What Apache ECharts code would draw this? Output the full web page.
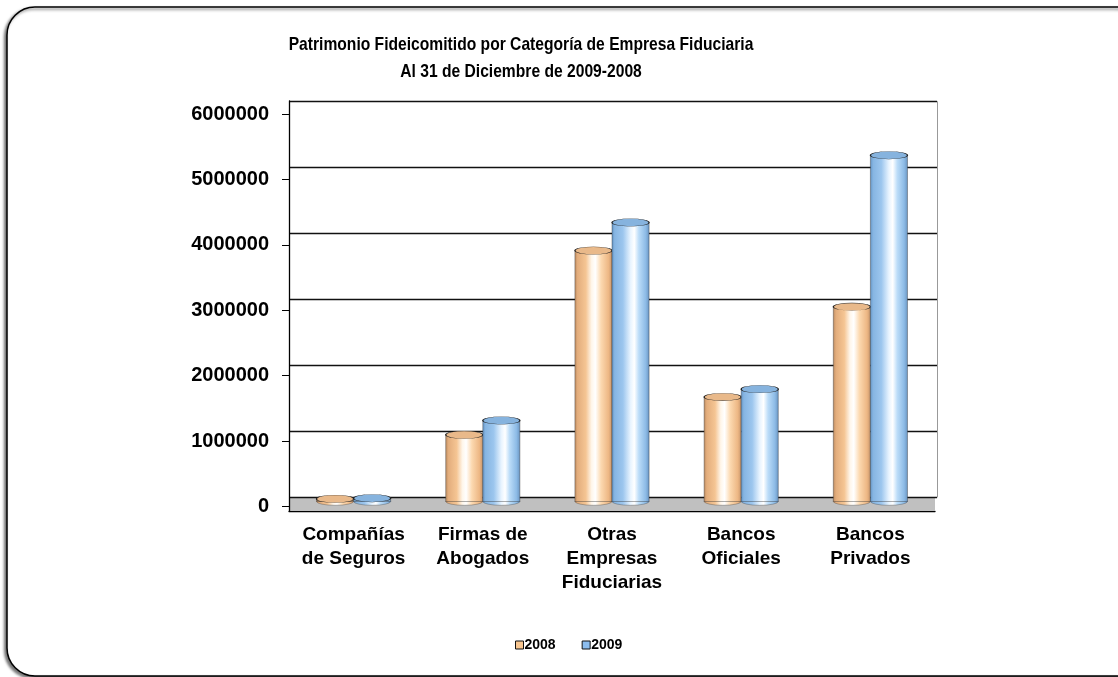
<!DOCTYPE html>
<html lang="es">
<head>
    <meta charset="UTF-8">
    <title>Patrimonio Fideicomitido</title>
    <script src="https://cdn.jsdelivr.net/npm/echarts@6/dist/echarts.min.js"></script>
    <style>
        html, body { margin: 0; padding: 0; background: #fff; }
    </style>
</head>
<body>
    <div id="main" style="width: 1118px; height: 677px;"></div>
    <script>
        // datos
        var categorias = ['Compañías\nde Seguros', 'Firmas de\nAbogados', 'Otras\nEmpresas\nFiduciarias', 'Bancos\nOficiales', 'Bancos\nPrivados'];
        var valores2008 = [40000, 1020000, 3840000, 1600000, 2980000];
        var valores2009 = [50000, 1240000, 4270000, 1720000, 5300000];
        var ticksY = [0, 1000000, 2000000, 3000000, 4000000, 5000000, 6000000];
        var titulo = 'Patrimonio Fideicomitido por Categoría de Empresa Fiduciaria\nAl 31 de Diciembre de 2009-2008';

        var fuente = '"Liberation Sans", Arial, sans-serif';
        var myChart = echarts.init(document.getElementById('main'));

        function grad(stops) {
            return new echarts.graphic.LinearGradient(0, 0, 1, 0, stops.map(function (c) {
                return { offset: c[0], color: c[1] };
            }));
        }

        var estilos = {
            '2008': {
                body: [[0, '#B8885E'], [0.08, '#E3AD7C'], [0.3, '#F5C593'], [0.45, '#FFF6EA'], [0.55, '#FFFFFF'], [0.7, '#FCD9B0'], [0.9, '#EDB784'], [1, '#C2926A']],
                top: '#E9B98A',
                legend: '#F8C690'
            },
            '2009': {
                body: [[0, '#5F8FBF'], [0.08, '#86B5E2'], [0.3, '#9CC6EE'], [0.5, '#E8F4FF'], [0.6, '#FFFFFF'], [0.72, '#BBDCF8'], [0.9, '#8DBBE6'], [1, '#6893C0']],
                top: '#86B3DE',
                legend: '#8CBDEE'
            }
        };

        function cilindro(lado, est) {
            return function (params, api) {
                var cat = api.value(0);
                var base = api.coord([cat, 0]);
                var tope = api.coord([cat, api.value(1)]);
                var banda = api.size([1, 0])[0];
                var w = banda * 0.287;
                var cx = base[0] + lado * w / 2;
                var rx = w / 2, ry = 3.8;
                var x0 = cx - rx;
                var cuerpo = grad(est.body);
                return {
                    type: 'group',
                    children: [
                        {
                            type: 'circle', x: cx, y: base[1], scaleY: ry / rx,
                            shape: { cx: 0, cy: 0, r: rx },
                            style: { fill: cuerpo, stroke: 'rgba(70,70,70,0.6)', lineWidth: 1 }
                        },
                        {
                            type: 'rect',
                            shape: { x: x0, y: tope[1], width: w, height: base[1] - tope[1] },
                            style: { fill: cuerpo, stroke: 'rgba(50,50,50,0.5)', lineWidth: 0.8 }
                        },
                        {
                            type: 'circle', x: cx, y: tope[1], scaleY: ry / rx,
                            shape: { cx: 0, cy: 0, r: rx },
                            style: { fill: est.top, stroke: '#222', lineWidth: 1.4 }
                        }
                    ]
                };
            };
        }

        function datos(arr) {
            return arr.map(function (v, i) { return [i, v]; });
        }

        var option = {
            animation: false,
            textStyle: { fontFamily: fuente },
            graphic: [
                {
                    type: 'rect', z: -10,
                    shape: { x: 7, y: 7, width: 1138, height: 669, r: 28 },
                    style: {
                        fill: '#fff', stroke: '#000', lineWidth: 1.5,
                        shadowColor: 'rgba(0,0,0,0.55)', shadowBlur: 3, shadowOffsetX: -2, shadowOffsetY: 2
                    }
                },
                {
                    type: 'rect', z: 0,
                    shape: { x: 289, y: 497, width: 646, height: 13 },
                    style: { fill: '#C0C0C0' }
                },
                // título (algo estrecho, como en el original)
                {
                    type: 'text', z: 10,
                    x: 521, y: 58, scaleX: 0.845,
                    style: {
                        text: titulo,
                        x: 0, y: 0,
                        align: 'center',
                        verticalAlign: 'middle',
                        font: 'bold 18.5px "Liberation Sans", Arial, sans-serif',
                        lineHeight: 27,
                        fill: '#000'
                    }
                }
            ],
            legend: {
                left: 510,
                top: 633,
                itemWidth: 8,
                itemHeight: 8,
                itemGap: 26,
                icon: 'rect',
                textStyle: { fontFamily: fuente, fontSize: 14, fontWeight: 'bold', color: '#000', padding: [0, 0, 0, -4] },
                data: [
                    { name: '2008', itemStyle: { color: estilos['2008'].legend, borderColor: '#111', borderWidth: 1 } },
                    { name: '2009', itemStyle: { color: estilos['2009'].legend, borderColor: '#111', borderWidth: 1 } }
                ]
            },
            grid: [
                // ticks y etiquetas del eje Y
                { left: 289, right: 183, top: 114, bottom: 170.5 },
                // eje X frontal y pared izquierda
                { left: 289, right: 183, top: 101, bottom: 166 },
                // líneas de la pared trasera
                { left: 289, right: 181, top: 101.7, bottom: 180 },
                // barras
                { left: 289, right: 183, top: 109.5, bottom: 175.5 }
            ],
            xAxis: [
                { gridIndex: 0, type: 'category', data: categorias, show: false },
                {
                    gridIndex: 1, type: 'category', data: categorias,
                    axisLine: { lineStyle: { color: '#000', width: 1.3 } },
                    axisTick: { length: 5, lineStyle: { color: '#000' } },
                    axisLabel: { fontFamily: fuente, fontSize: 19, fontWeight: 'bold', color: '#000', lineHeight: 24, margin: 12, interval: 0 }
                },
                { gridIndex: 2, type: 'category', data: categorias, show: false },
                { gridIndex: 3, type: 'category', data: categorias, show: false }
            ],
            yAxis: [
                {
                    gridIndex: 0, type: 'value', min: ticksY[0], max: ticksY[ticksY.length - 1], interval: 1000000,
                    axisLine: { show: false },
                    axisTick: { show: true, length: 7, lineStyle: { color: '#000' } },
                    axisLabel: {
                        fontFamily: fuente, fontSize: 20, fontWeight: 'bold', color: '#000', margin: 20,
                        formatter: function (v) { return String(v); }
                    },
                    splitLine: { show: false }
                },
                {
                    gridIndex: 1, type: 'value', min: 0, max: 1,
                    axisLine: { show: true, lineStyle: { color: '#000', width: 1.3 } },
                    axisTick: { show: false }, axisLabel: { show: false }, splitLine: { show: false }
                },
                {
                    gridIndex: 2, type: 'value', min: ticksY[0], max: ticksY[ticksY.length - 1], interval: 1000000,
                    position: 'right',
                    axisLine: { show: true, lineStyle: { color: '#999', width: 1 } },
                    axisTick: { show: false }, axisLabel: { show: false },
                    splitLine: { show: true, lineStyle: { color: '#111', width: 1.4 } }
                },
                {
                    gridIndex: 3, type: 'value', min: ticksY[0], max: ticksY[ticksY.length - 1], show: false
                }
            ],
            series: [
                {
                    name: '2008', type: 'custom', xAxisIndex: 3, yAxisIndex: 3, z: 5,
                    itemStyle: { color: estilos['2008'].legend },
                    renderItem: cilindro(-1, estilos['2008']),
                    data: datos(valores2008)
                },
                {
                    name: '2009', type: 'custom', xAxisIndex: 3, yAxisIndex: 3, z: 5,
                    itemStyle: { color: estilos['2009'].legend },
                    renderItem: cilindro(1, estilos['2009']),
                    data: datos(valores2009)
                }
            ]
        };

        myChart.setOption(option);
    </script>
</body>
</html>
